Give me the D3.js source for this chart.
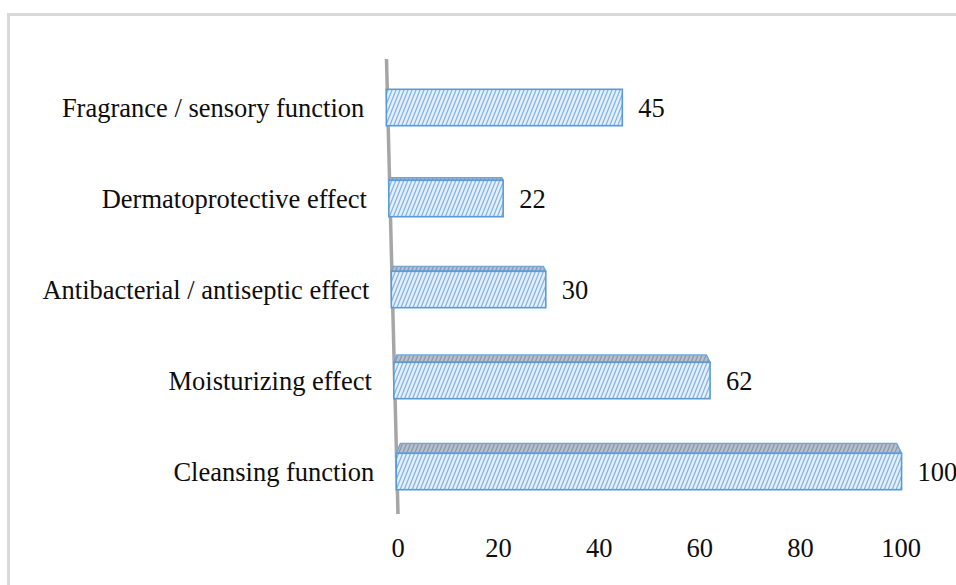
<!DOCTYPE html>
<html>
<head>
<meta charset="utf-8">
<script src="https://cdn.jsdelivr.net/npm/d3@7/dist/d3.min.js"></script>
<style>
  html, body { margin: 0; padding: 0; background: #fff; }
  svg { display: block; }
  text { font-family: "Liberation Serif", "Times New Roman", serif; fill: #0d0d0d; }
</style>
</head>
<body>
<svg id="chart" width="956" height="585"></svg>
<script>
// Functions reported (count of mentions), top to bottom
const categories = [
  "Fragrance / sensory function",
  "Dermatoprotective effect",
  "Antibacterial / antiseptic effect",
  "Moisturizing effect",
  "Cleansing function"
];
const values = [45, 22, 30, 62, 100];
const tickValues = [0, 20, 40, 60, 80, 100];

const svg = d3.select("#chart");
const FONT = 26.5;

// Chart frame
svg.append("rect")
  .attr("x", 8.5).attr("y", 14.5)
  .attr("width", 1200).attr("height", 1200)
  .attr("fill", "none").attr("stroke", "#d9d9d9").attr("stroke-width", 3);

// Perspective floor: the value axis widens slightly toward the top
const yTopAxis = 59, yBotAxis = 514;
const rangeTop = [385, 912];
const rangeBot = [397.5, 900.5];
function xAt(y) {
  const t = (y - yTopAxis) / (yBotAxis - yTopAxis);
  return d3.scaleLinear().domain([0, 100]).range([
    rangeTop[0] + (rangeBot[0] - rangeTop[0]) * t,
    rangeTop[1] + (rangeBot[1] - rangeTop[1]) * t
  ]);
}

const y = d3.scaleBand().domain(categories).range([62, 517]);
const barH = y.bandwidth() * 0.4;
const eyeY = 88;

// Hatch patterns (upward diagonal)
const defs = svg.append("defs");
function hatch(id, bg, fg, sw) {
  const p = defs.append("pattern").attr("id", id)
    .attr("patternUnits", "userSpaceOnUse")
    .attr("width", 4).attr("height", 10);
  p.append("rect").attr("width", 4).attr("height", 10).attr("fill", bg);
  p.append("path").attr("d", "M-1,12.5 L5,-2.5 M-5,12.5 L1,-2.5 M3,12.5 L9,-2.5")
    .attr("stroke", fg).attr("stroke-width", sw).attr("fill", "none");
}
hatch("frontHatch", "#e6f0fa", "#86b6e4", 1.3);
hatch("topHatch", "#b6c1cf", "#8898ad", 1.3);

// Vertical axis line, drawn behind the bars
svg.append("line")
  .attr("x1", rangeTop[0] + 1.5).attr("y1", yTopAxis)
  .attr("x2", rangeBot[0] + 0.5).attr("y2", yBotAxis)
  .attr("stroke", "#a6a6a6").attr("stroke-width", 3.5);

const rows = categories.map((c, i) => {
  const cy = y(c) + y.bandwidth() / 2;
  const sx = xAt(cy);
  const top = cy - barH / 2;
  return { c, v: values[i], cy, top, x0: sx(0), x1: sx(values[i]), depth: Math.max(0, (top - eyeY) * 0.027) };
});

const g = svg.append("g");

// Top faces
g.selectAll("path.top").data(rows.filter(d => d.depth > 0.5)).join("path")
  .attr("class", "top")
  .attr("d", d => {
    const dd = d.depth;
    return `M${d.x0},${d.top} L${d.x0 + 0.4 * dd},${d.top - dd} L${d.x1 - 0.5 * dd},${d.top - dd} L${d.x1},${d.top} Z`;
  })
  .attr("fill", "url(#topHatch)")
  .attr("stroke", "#6fa6dc").attr("stroke-width", 1.4).attr("stroke-linejoin", "round");

// Front faces
g.selectAll("rect.front").data(rows).join("rect")
  .attr("class", "front")
  .attr("x", d => d.x0).attr("y", d => d.top)
  .attr("width", d => d.x1 - d.x0).attr("height", barH)
  .attr("fill", "url(#frontHatch)")
  .attr("stroke", "#5b9bd5").attr("stroke-width", 1.6);

// Category labels
svg.selectAll("text.cat").data(rows).join("text")
  .attr("class", "cat")
  .attr("x", d => d.x0 - 22).attr("y", d => d.cy)
  .attr("text-anchor", "end").attr("dominant-baseline", "central")
  .attr("font-size", FONT)
  .text(d => d.c);

// Value labels
svg.selectAll("text.val").data(rows).join("text")
  .attr("class", "val")
  .attr("x", d => d.x1 + 16).attr("y", d => d.cy)
  .attr("dominant-baseline", "central")
  .attr("font-size", FONT)
  .text(d => d.v);

// Value axis tick labels
const xBottom = d3.scaleLinear().domain([0, 100]).range(rangeBot);
const axis = svg.append("g").attr("transform", "translate(0,548)")
  .call(d3.axisBottom(xBottom).tickValues(tickValues).tickSize(0).tickPadding(0));
axis.select(".domain").remove();
axis.selectAll("text")
  .attr("dy", null)
  .attr("dominant-baseline", "central")
  .attr("font-size", FONT)
  .style("font-family", '"Liberation Serif", "Times New Roman", serif')
  .attr("fill", "#0d0d0d");
</script>
</body>
</html>
